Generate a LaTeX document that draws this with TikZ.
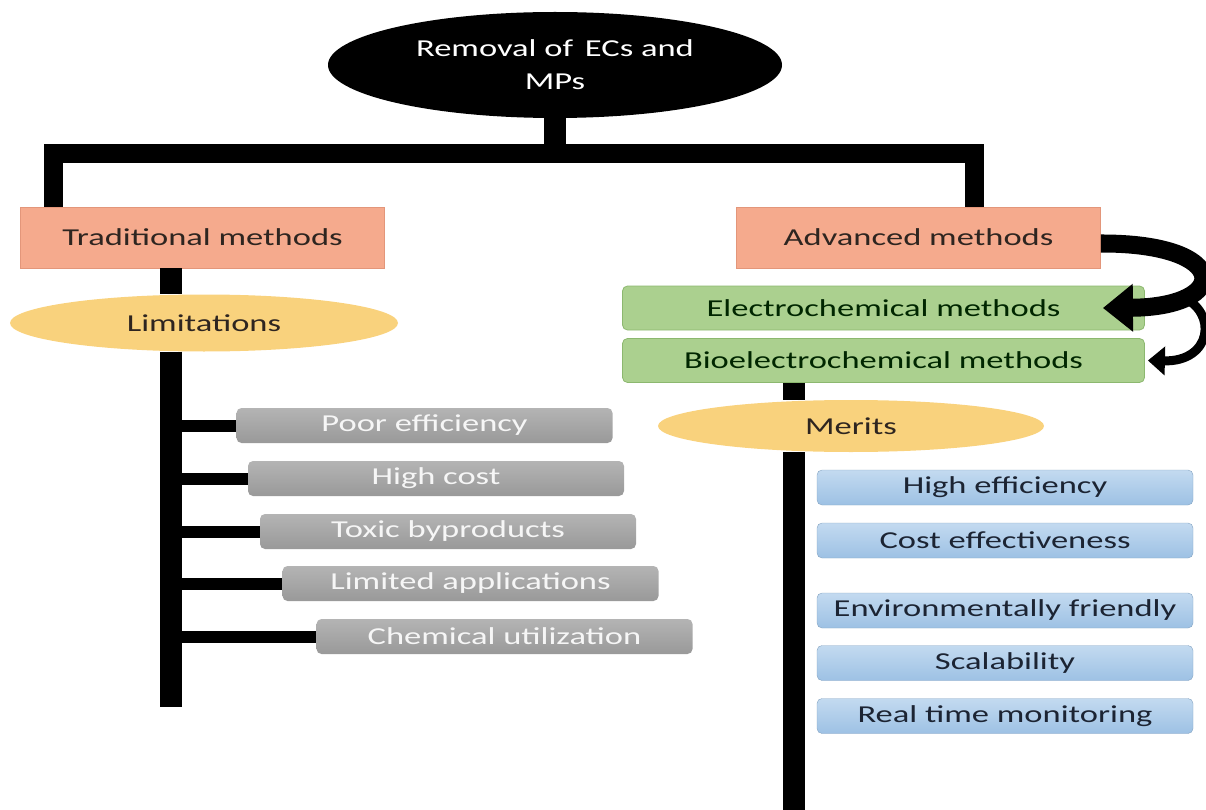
\documentclass[tikz,border=0pt]{standalone}
\usepackage{fontspec}
\setmainfont{Carlito}[FakeStretch=1.42]
\usetikzlibrary{shapes.geometric,arrows.meta}
\definecolor{salmon}{HTML}{F5AA8D}
\definecolor{salmonline}{HTML}{E3967A}
\definecolor{ellfill}{HTML}{F9D27D}
\definecolor{greenfill}{HTML}{ABD08F}
\definecolor{greenline}{HTML}{8CB86F}
\definecolor{graytop}{HTML}{B4B4B4}
\definecolor{graybot}{HTML}{999999}
\definecolor{bluetop}{HTML}{C3DAF0}
\definecolor{bluebot}{HTML}{9DC1E4}
\definecolor{darktext}{HTML}{2E2520}
\definecolor{navytext}{HTML}{1C2433}
\tikzset{
  txt/.style={font=\fontsize{24.3}{33}\selectfont},
  rootell/.style={ellipse, fill=black, text=white, minimum width=454, minimum height=106, inner sep=0, align=center, txt},
  methbox/.style={rectangle, fill=salmon, draw=salmonline, line width=0.8, minimum width=364, minimum height=61, text=darktext, txt},
  subell/.style={ellipse, fill=ellfill, minimum width=388, minimum height=57, inner sep=0, text=darktext, txt},
  greenbox/.style={rectangle, rounded corners=5, fill=greenfill, draw=greenline, line width=0.8, minimum width=522, minimum height=44, inner sep=0, text=black!85!green, txt},
  graybox/.style={rectangle, rounded corners=5, top color=graytop, bottom color=graybot, minimum width=376, minimum height=35, inner sep=0, text=white!93!gray, txt},
  bluebox/.style={rectangle, rounded corners=5, top color=bluetop, bottom color=bluebot, draw=bluebot!85!black, line width=0.4, minimum width=376, minimum height=35, inner sep=0, text=navytext, txt},
  stem/.style={line width=22, line join=miter},
  branch/.style={line width=12},
}
\begin{document}
\begin{tikzpicture}[x=1pt,y=-1pt]
\useasboundingbox (0,0) rectangle (1206,810);
% top bar
\coordinate (barL) at (53.5,154);
\coordinate (barR) at (974,154);
\node[methbox] (trad) at (202.5,237.5) {Traditional methods};
\node[methbox] (adv) at (918.5,237.5) {Advanced methods};
\draw[line width=19, line join=miter] (barL |- trad.north) -- (barL) -- (barR) -- (barR |- adv.north);
\node[rootell] (root) at (555,65) {Removal of\, ECs and\\MPs};
\draw[stem] (root.south) -- (root.south |- barL);
% left side
\node[subell] (lim) at (204,323) {Limitations};
\coordinate (lend) at (171,707);
\draw[stem] (trad.south -| lend) -- (lim.north -| lend);
\draw[stem] (lim.south -| lend) -- (lend);
\node[graybox] (g1) at (424.5,425.5) {Poor efficiency};
\node[graybox] (g2) at (436,478.5) {High cost};
\node[graybox] (g3) at (448,531.5) {Toxic byproducts};
\node[graybox] (g4) at (470.5,583.5) {Limited applications};
\node[graybox] (g5) at (504.5,636.5) {Chemical utilization};
\foreach \g in {g1,g2,g3,g4,g5}{
  \draw[branch] (\g.west -| lend) -- (\g.west);
}
% right side
\node[greenbox] (elec) at (883.5,308) {Electrochemical methods};
\node[greenbox] (bio) at (883.5,360.5) {Bioelectrochemical methods};
\node[subell, minimum width=386, minimum height=52] (mer) at (851,426) {Merits};
\coordinate (rend) at (794,810);
\draw[stem] (bio.south -| rend) -- (mer.north -| rend);
\draw[stem] (mer.south -| rend) -- (rend);
\node[bluebox] (b1) at (1005,487.5) {High efficiency};
\node[bluebox] (b2) at (1005,540.5) {Cost effectiveness};
\node[bluebox] (b3) at (1005,610.5) {Environmentally friendly};
\node[bluebox] (b4) at (1005,663) {Scalability};
\node[bluebox] (b5) at (1005,716) {Real time monitoring};
% curved arrows
\coordinate (a2start) at (1182,297);
\draw[line width=18, -{Triangle[length=30,width=46]}] ([yshift=-6]adv.east) .. controls (1232,243) and (1232,307) .. ([xshift=-42]elec.east);
\draw[line width=9, -{Triangle[length=17,width=28]}] (a2start) .. controls (1218,312) and (1212,362) .. ([xshift=3]bio.east);
\end{tikzpicture}
\end{document}
